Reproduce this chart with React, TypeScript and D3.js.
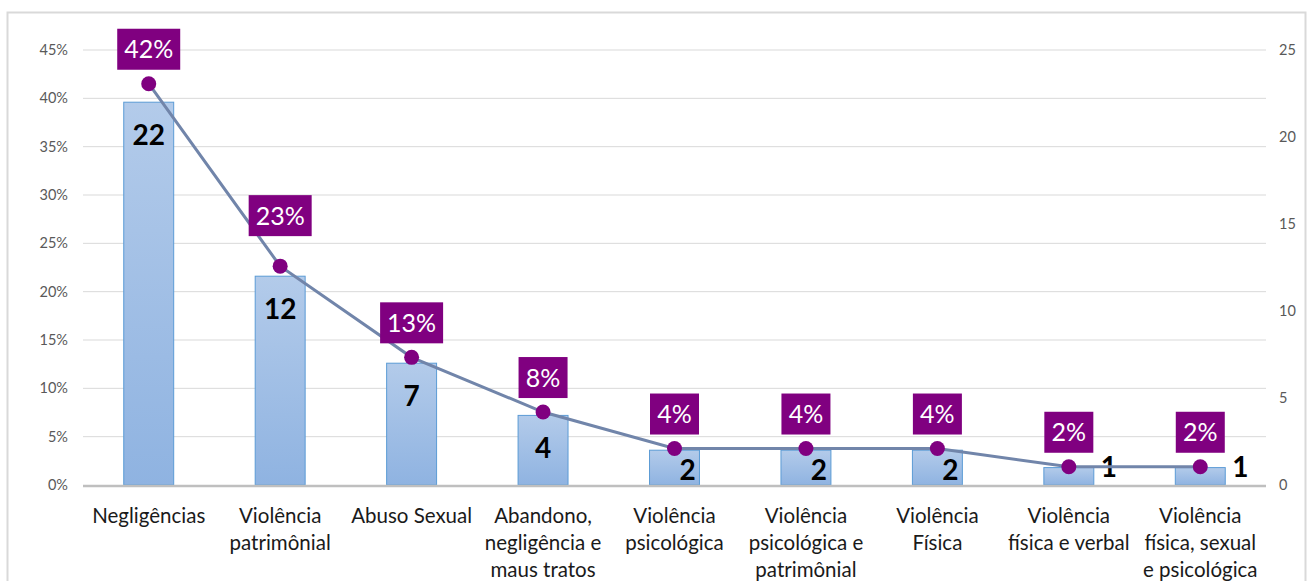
import * as d3 from 'd3';
import React from 'react';

const categories = [
	'Negligências',
	'Violência patrimônial',
	'Abuso Sexual',
	'Abandono, negligência e maus tratos',
	'Violência psicológica',
	'Violência psicológica e patrimônial',
	'Violência Física',
	'Violência física e verbal',
	'Violência física, sexual e psicológica',
];

const categoryLines = [
	['Negligências'],
	['Violência', 'patrimônial'],
	['Abuso Sexual'],
	['Abandono,', 'negligência e', 'maus tratos'],
	['Violência', 'psicológica'],
	['Violência', 'psicológica e', 'patrimônial'],
	['Violência', 'Física'],
	['Violência', 'física e verbal'],
	['Violência', 'física, sexual', 'e psicológica'],
];

const counts = [22, 12, 7, 4, 2, 2, 2, 1, 1];

const leftTicks = [0, 0.05, 0.1, 0.15, 0.2, 0.25, 0.3, 0.35, 0.4, 0.45];
const rightTicks = [0, 5, 10, 15, 20, 25];

const W = 1308;
const H = 581;
const margin = { top: 50, right: 42, bottom: 96, left: 83 };
const font = 'Lato, "Open Sans", sans-serif';

export default function App(): React.JSX.Element {
	const total = d3.sum(counts);
	const shares = counts.map((c) => c / total);

	const x = d3.scaleBand<string>()
		.domain(categories)
		.range([margin.left, W - margin.right])
		.paddingInner(0.62)
		.paddingOuter(0.31);

	const yLeft = d3.scaleLinear().domain([0, 0.45]).range([H - margin.bottom, margin.top]);
	const yRight = d3.scaleLinear().domain([0, 25]).range([H - margin.bottom, margin.top]);

	const cx = (i: number) => (x(categories[i]) ?? 0) + x.bandwidth() / 2;

	const line = d3.line<number>()
		.x((_, i) => cx(i))
		.y((d) => yLeft(d));

	const x0 = margin.left;
	const x1 = W - margin.right;
	const base = H - margin.bottom;

	return (
		<svg width={W} height={H} style={{ position: 'absolute', left: 0, top: 0 }} fontFamily={font}>
			<defs>
				<linearGradient id="barFill" x1="0" y1="0" x2="0" y2="1">
					<stop offset="0%" stopColor="#b3cbea" />
					<stop offset="100%" stopColor="#8fb3e1" />
				</linearGradient>
			</defs>
			<rect x={0} y={0} width={W} height={H} fill="#fff" />
			<rect x={7.5} y={12.5} width={1298} height={H} fill="none" stroke="#d9d9d9" strokeWidth={2} />

			{/* gridlines + left axis */}
			{leftTicks.map((t) => (
				<g key={`l${t}`}>
					{t > 0 && <line x1={x0} x2={x1} y1={yLeft(t)} y2={yLeft(t)} stroke="#d9d9d9" strokeWidth={1} />}
					<text x={68} y={yLeft(t)} dy="0.35em" textAnchor="end" fontSize={14.5} fill="#595959">
						{`${Math.round(t * 100)}%`}
					</text>
				</g>
			))}
			{rightTicks.map((t) => (
				<text key={`r${t}`} x={1279} y={yRight(t)} dy="0.35em" textAnchor="start" fontSize={14.5} fill="#595959">
					{t}
				</text>
			))}

			{/* bars */}
			{counts.map((c, i) => (
				<rect
					key={`b${i}`}
					x={x(categories[i])}
					y={yRight(c)}
					width={x.bandwidth()}
					height={base - yRight(c)}
					fill="url(#barFill)"
					stroke="#5b9bd5"
					strokeWidth={1}
				/>
			))}

			<line x1={x0} x2={x1} y1={base + 1} y2={base + 1} stroke="#bfbfbf" strokeWidth={2.5} />

			{/* count labels */}
			{counts.map((c, i) => {
				let lx = cx(i);
				let ly = yRight(c) + 33;
				let anchor: 'middle' | 'start' = 'middle';
				if (c === 2) {
					lx = cx(i) + 13;
					ly = 470;
				} else if (c === 1) {
					lx = (x(categories[i]) ?? 0) + x.bandwidth() + 7;
					ly = 467;
					anchor = 'start';
				}
				return (
					<text key={`c${i}`} x={lx} y={ly} dy="0.35em" textAnchor={anchor} fontSize={28} fontWeight={700} fill="#000">
						{c}
					</text>
				);
			})}

			{/* line */}
			<path d={line(shares) ?? ''} fill="none" stroke="#7185aa" strokeWidth={3} />
			{shares.map((s, i) => (
				<circle key={`p${i}`} cx={cx(i)} cy={yLeft(s)} r={7.5} fill="#800080" />
			))}

			{/* percent labels */}
			{shares.map((s, i) => {
				const label = `${Math.round(s * 100)}%`;
				const bw = 14 * label.length + 21;
				const bh = 41;
				const lift = i === 1 ? 16 : 0;
				const bottom = yLeft(s) - 14 - lift;
				return (
					<g key={`t${i}`}>
						<rect x={cx(i) - bw / 2} y={bottom - bh} width={bw} height={bh} fill="#800080" />
						<text x={cx(i)} y={bottom - bh / 2} dy="0.36em" textAnchor="middle" fontSize={25} fill="#fff">
							{label}
						</text>
					</g>
				);
			})}

			{/* category labels */}
			{categoryLines.map((lines, i) => (
				<text key={`x${i}`} x={cx(i)} textAnchor="middle" fontSize={20.5} fill="#1a1a1a">
					{lines.map((ln, j) => (
						<tspan key={j} x={cx(i)} y={523 + j * 27}>{ln}</tspan>
					))}
				</text>
			))}
		</svg>
	);
}
